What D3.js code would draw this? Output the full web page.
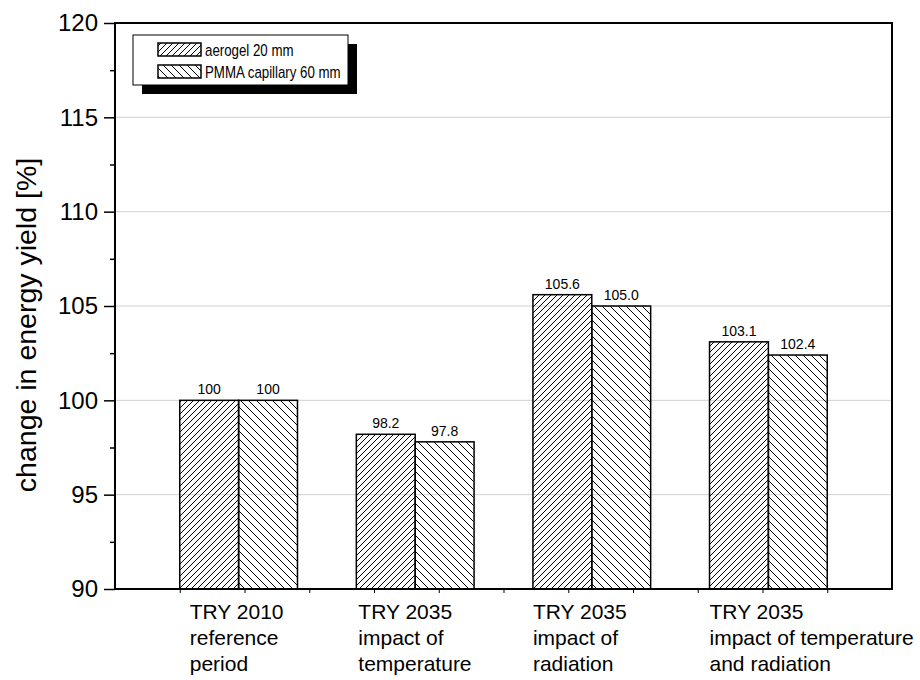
<!DOCTYPE html>
<html>
<head>
<meta charset="utf-8">
<script src="https://cdn.jsdelivr.net/npm/d3@7"></script>
<style>
  body { margin: 0; background: #fff; }
  svg { font-family: "Liberation Sans", Arial, sans-serif; }
</style>
</head>
<body>
<div id="chart"></div>
<script>
// data
const categories = [
  ["TRY 2010", "reference", "period"],
  ["TRY 2035", "impact of", "temperature"],
  ["TRY 2035", "impact of", "radiation"],
  ["TRY 2035", "impact of temperature", "and radiation"]
];
const aerogel = [100, 98.2, 105.6, 103.1];
const pmma = [100, 97.8, 105.0, 102.4];
const aerogelLabels = ["100", "98.2", "105.6", "103.1"];
const pmmaLabels = ["100", "97.8", "105.0", "102.4"];
const seriesNames = ["aerogel 20 mm", "PMMA capillary 60 mm"];
const yTicks = [90, 95, 100, 105, 110, 115, 120];
const yMinor = [92.5, 97.5, 102.5, 107.5, 112.5, 117.5];

const width = 920, height = 680,
    margin = ({ top: 23, right: 28, bottom: 91, left: 115 });

const svg = d3.select("#chart")
    .append("svg")
    .attr("width", width)
    .attr("height", height);

// hatch patterns
const defs = svg.append("defs");
defs.append("pattern")
    .attr("id", "fwd")
    .attr("patternUnits", "userSpaceOnUse")
    .attr("width", 6).attr("height", 6)
  .append("path")
    .attr("d", "M0,6 L6,0 M-1,1 L1,-1 M5,7 L7,5")
    .attr("stroke", "#000").attr("stroke-width", 1);
defs.append("pattern")
    .attr("id", "back")
    .attr("patternUnits", "userSpaceOnUse")
    .attr("width", 8).attr("height", 8)
  .append("path")
    .attr("d", "M0,0 L8,8 M-2,6 L2,10 M6,-2 L10,2")
    .attr("stroke", "#000").attr("stroke-width", 1);

let x = d3.scaleLinear()
    .domain([0.3, 4.7])
    .range([margin.left, width - margin.right]);

let y = d3.scaleLinear()
    .domain([90, 120])
    .range([height - margin.bottom, margin.top]);

const barW = x(1 / 3) - x(0);

// grid
svg.append("g")
  .selectAll("line")
  .data(yTicks.slice(1, -1))
  .join("line")
    .attr("x1", margin.left).attr("x2", width - margin.right)
    .attr("y1", d => y(d)).attr("y2", d => y(d))
    .attr("stroke", "#d0d0d0").attr("stroke-width", 1);

// bars
const groups = categories.map((c, i) => i + 1);
svg.append("g")
  .selectAll("rect")
  .data(groups)
  .join("rect")
    .attr("x", d => x(d) - barW)
    .attr("y", (d, i) => y(aerogel[i]))
    .attr("width", barW)
    .attr("height", (d, i) => y(90) - y(aerogel[i]))
    .attr("fill", "url(#fwd)")
    .attr("stroke", "#000").attr("stroke-width", 1.5);

svg.append("g")
  .selectAll("rect")
  .data(groups)
  .join("rect")
    .attr("x", d => x(d))
    .attr("y", (d, i) => y(pmma[i]))
    .attr("width", barW)
    .attr("height", (d, i) => y(90) - y(pmma[i]))
    .attr("fill", "url(#back)")
    .attr("stroke", "#000").attr("stroke-width", 1.5);

// value labels
svg.append("g")
  .selectAll("text")
  .data(groups)
  .join("text")
    .attr("x", d => x(d) - barW / 2)
    .attr("y", (d, i) => y(aerogel[i]) - 6)
    .attr("text-anchor", "middle")
    .attr("font-size", 14)
    .text((d, i) => aerogelLabels[i]);

svg.append("g")
  .selectAll("text")
  .data(groups)
  .join("text")
    .attr("x", d => x(d) + barW / 2)
    .attr("y", (d, i) => y(pmma[i]) - 6)
    .attr("text-anchor", "middle")
    .attr("font-size", 14)
    .text((d, i) => pmmaLabels[i]);

// y axis
const yAxis = svg.append("g")
    .attr("transform", `translate(${margin.left},0)`)
    .call(d3.axisLeft(y).tickValues(yTicks).tickSize(11).tickPadding(6).tickSizeOuter(0));
yAxis.selectAll("text").attr("font-size", 24).attr("fill", "#000")
    .attr("font-family", "Liberation Sans, Arial, sans-serif");
yAxis.select(".domain").remove();
yAxis.selectAll(".tick line").attr("stroke-width", 1.5);

svg.append("g")
    .attr("transform", `translate(${margin.left},0)`)
    .call(d3.axisLeft(y).tickValues(yMinor).tickSize(5).tickFormat(""))
    .call(g => g.select(".domain").remove())
    .selectAll(".tick line").attr("stroke-width", 1.5);

// x axis small ticks
const tickScale = d3.scaleLinear().domain([0, 12]).range([margin.left, width - margin.right]);
svg.append("g")
    .attr("transform", `translate(0,${height - margin.bottom})`)
    .call(d3.axisBottom(tickScale).tickValues(d3.range(1, 12)).tickSize(4).tickFormat(""))
    .call(g => g.select(".domain").remove());

// frame
svg.append("rect")
    .attr("x", margin.left).attr("y", margin.top)
    .attr("width", width - margin.left - margin.right)
    .attr("height", height - margin.top - margin.bottom)
    .attr("fill", "none").attr("stroke", "#000").attr("stroke-width", 2);

// category labels
const labelShift = [10, 2, 0, 0];
svg.append("g")
  .selectAll("text")
  .data(groups)
  .join("text")
    .attr("x", (d, i) => x(d) - barW + labelShift[i])
    .attr("y", height - margin.bottom + 30)
    .attr("font-size", 21)
    .selectAll("tspan")
    .data((d, i) => categories[i])
    .join("tspan")
      .attr("x", function () { return this.parentNode.getAttribute("x"); })
      .attr("dy", (d, j) => j === 0 ? 0 : 26)
      .text(d => d);

// y title
svg.append("text")
    .attr("transform", `translate(36,${(margin.top + height - margin.bottom) / 2 + 19}) rotate(-90)`)
    .attr("text-anchor", "middle")
    .attr("font-size", 28.5)
    .text("change in energy yield [%]");

// legend
const lg = svg.append("g").attr("transform", "translate(133,35)");
lg.append("rect")
    .attr("x", 9).attr("y", 9).attr("width", 215).attr("height", 50)
    .attr("fill", "#000");
lg.append("rect")
    .attr("width", 215).attr("height", 50)
    .attr("fill", "#fff").attr("stroke", "#000").attr("stroke-width", 1);
lg.selectAll(".sw")
  .data(seriesNames)
  .join("rect")
    .attr("x", 25).attr("y", (d, i) => 8 + i * 22)
    .attr("width", 43).attr("height", 13)
    .attr("fill", (d, i) => i === 0 ? "url(#fwd)" : "url(#back)")
    .attr("stroke", "#000").attr("stroke-width", 1.5);
// legend text is a bit condensed in the original
lg.append("g")
    .attr("transform", "translate(72,0) scale(0.83,1)")
  .selectAll("text")
  .data(seriesNames)
  .join("text")
    .attr("y", (d, i) => 15 + i * 22)
    .attr("dy", "0.35em")
    .attr("font-size", 16)
    .text(d => d);
</script>
</body>
</html>
